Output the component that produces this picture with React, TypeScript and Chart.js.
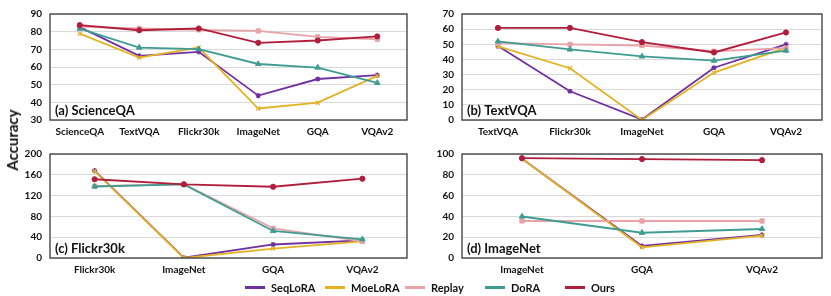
import React, { useEffect, useRef } from "react";
import { Chart, registerables } from "chart.js";

Chart.register(...registerables);

const seriesNames = ["SeqLoRA", "MoeLoRA", "Replay", "DoRA", "Ours"];
const seriesColors = ["#7030A0", "#E3B324", "#E9A3A8", "#3F9C93", "#B01E3C"];
const pointStyles = ["star", "crossRot", "rect", "triangle", "circle"];
const pointRadii = [2.6, 2.8, 3, 3.2, 2.6];

// (a) ScienceQA
const catsA = ["ScienceQA", "TextVQA", "Flickr30k", "ImageNet", "GQA", "VQAv2"];
const seqA = [82.6, 66.3, 68.6, 43.8, 53.2, 55.4];
const moeA = [78.9, 65.3, 71, 36.5, 39.8, 55];
const repA = [82.8, 81.8, 81, 80.4, 77.1, 75.7];
const doraA = [81.7, 71, 70.1, 61.7, 59.7, 51];
const oursA = [83.7, 80.8, 81.8, 73.7, 75, 77.3];

// (b) TextVQA
const catsB = ["TextVQA", "Flickr30k", "ImageNet", "GQA", "VQAv2"];
const seqB = [48.8, 19, 0.3, 34.5, 49.9];
const moeB = [48.6, 34.2, 0, 31.3, 47.8];
const repB = [50.8, 49.9, 49.2, 45.4, 47.4];
const doraB = [51.9, 46.6, 42, 39.2, 45.8];
const oursB = [60.8, 60.8, 51.4, 44.6, 57.8];

// (c) Flickr30k
const catsC = ["Flickr30k", "ImageNet", "GQA", "VQAv2"];
const seqC = [168, 0.5, 26, 34];
const moeC = [167, 0, 18, 32];
const repC = [138, 142, 57, 32];
const doraC = [137.5, 141.5, 52, 36];
const oursC = [151.4, 141.5, 137, 152.5];

// (d) ImageNet
const catsD = ["ImageNet", "GQA", "VQAv2"];
const seqD = [95.5, 11.6, 22.2];
const moeD = [95.5, 10.3, 21.6];
const repD = [35.6, 35.6, 35.6];
const doraD = [39.9, 24.3, 27.9];
const oursD = [96, 95.1, 94.1];

const yTicksA = { min: 30, max: 90, step: 10 };
const yTicksB = { min: 0, max: 70, step: 10 };
const yTicksC = { min: 0, max: 200, step: 40 };
const yTicksD = { min: 0, max: 100, step: 20 };

const FONT = "Lato, 'Open Sans', Arial, sans-serif";

type PanelProps = {
  left: number;
  top: number;
  width: number;
  height: number;
  yAxisWidth: number;
  xAxisHeight: number;
  padTop: number;
  padRight: number;
  cats: string[];
  series: number[][];
  yt: { min: number; max: number; step: number };
  label: string;
};

function Panel(p: PanelProps) {
  const ref = useRef<HTMLCanvasElement | null>(null);
  useEffect(() => {
    if (!ref.current) return;
    const framePlugin = {
      id: "frame",
      afterDraw(chart: any) {
        const { ctx, chartArea } = chart;
        ctx.save();
        ctx.strokeStyle = "#3a3a3a";
        ctx.lineWidth = 1.3;
        ctx.strokeRect(chartArea.left, chartArea.top, chartArea.right - chartArea.left, chartArea.bottom - chartArea.top);
        ctx.fillStyle = "#111";
        ctx.font = `bold 13px ${FONT}`;
        ctx.textBaseline = "middle";
        ctx.textAlign = "left";
        ctx.fillText(p.label, chartArea.left + 5, chartArea.bottom - 9);
        ctx.restore();
      },
    };
    const datasets = p.series.map((d, i) => ({
      label: seriesNames[i],
      data: d,
      borderColor: seriesColors[i],
      backgroundColor: seriesColors[i],
      pointStyle: pointStyles[i] as any,
      pointRadius: pointRadii[i],
      pointBorderWidth: i < 2 ? 1.3 : 1,
      borderWidth: 1.8,
      tension: 0,
      order: 4 - i,
    }));
    const chart = new Chart(ref.current, {
      type: "line",
      data: { labels: p.cats, datasets },
      plugins: [framePlugin],
      options: {
        animation: false,
        responsive: false,
        maintainAspectRatio: false,
        layout: { padding: { top: p.padTop, right: p.padRight, left: 0, bottom: 0 } },
        plugins: { legend: { display: false }, tooltip: { enabled: false } },
        scales: {
          x: {
            offset: true,
            grid: { display: false, drawTicks: false },
            border: { display: false },
            ticks: { color: "#111", font: { family: FONT, size: 10, weight: "bold" }, padding: 6, maxRotation: 0, autoSkip: false },
            afterFit(scale: any) {
              scale.height = p.xAxisHeight;
            },
          },
          y: {
            min: p.yt.min,
            max: p.yt.max,
            grid: { color: "#d9d9d9", lineWidth: 1, drawTicks: false },
            border: { display: false },
            ticks: { stepSize: p.yt.step, color: "#111", font: { family: FONT, size: 10, weight: "bold" }, padding: 8 },
            afterFit(scale: any) {
              scale.width = p.yAxisWidth;
            },
          },
        },
      } as any,
    });
    return () => chart.destroy();
  }, []);
  return (
    <canvas
      ref={ref}
      width={p.width}
      height={p.height}
      style={{ position: "absolute", left: p.left, top: p.top, width: p.width, height: p.height }}
    />
  );
}

export default function App() {
  const legendX = [245, 325, 405, 485, 565];
  return (
    <div style={{ position: "fixed", left: 0, top: 0, width: 831, height: 296, background: "#fff", overflow: "hidden" }}>
      <Panel left={0} top={0} width={415} height={140} yAxisWidth={50} xAxisHeight={20} padTop={9} padRight={8}
        cats={catsA} series={[seqA, moeA, repA, doraA, oursA]} yt={yTicksA} label="(a) ScienceQA" />
      <Panel left={415} top={0} width={416} height={140} yAxisWidth={47} xAxisHeight={20} padTop={9} padRight={9}
        cats={catsB} series={[seqB, moeB, repB, doraB, oursB]} yt={yTicksB} label="(b) TextVQA" />
      <Panel left={0} top={140} width={415} height={140} yAxisWidth={50} xAxisHeight={22} padTop={8} padRight={8}
        cats={catsC} series={[seqC, moeC, repC, doraC, oursC]} yt={yTicksC} label="(c) Flickr30k" />
      <Panel left={415} top={140} width={416} height={140} yAxisWidth={47} xAxisHeight={22} padTop={8} padRight={9}
        cats={catsD} series={[seqD, moeD, repD, doraD, oursD]} yt={yTicksD} label="(d) ImageNet" />
      <div style={{
        position: "absolute", left: 12, top: 140, transform: "translate(-50%, -50%) rotate(-90deg)",
        fontFamily: FONT, fontWeight: "bold", fontSize: 15, color: "#111", whiteSpace: "nowrap",
      }}>Accuracy</div>
      {seriesNames.map((n, i) => (
        <div key={n} style={{ position: "absolute", left: legendX[i], top: 279, height: 16, display: "flex", alignItems: "center",
          fontFamily: FONT, fontWeight: "bold", fontSize: 11, color: "#111", whiteSpace: "nowrap" }}>
          <span style={{ display: "inline-block", width: 20, height: 3, background: seriesColors[i], marginRight: 6 }} />
          {n}
        </div>
      ))}
    </div>
  );
}
